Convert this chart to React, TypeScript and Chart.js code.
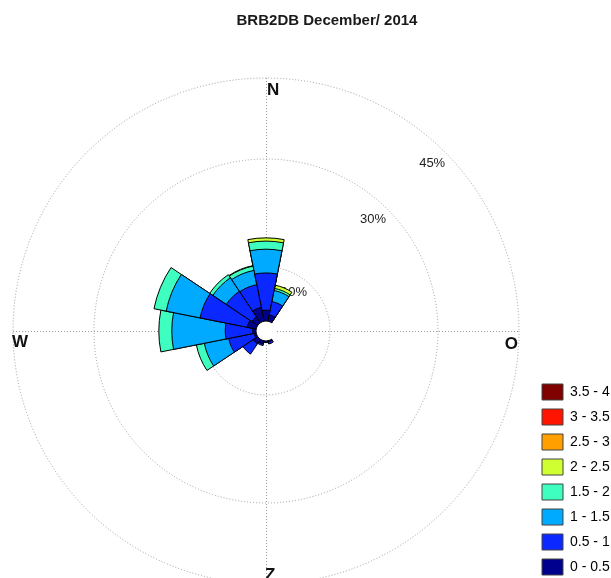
import React, { useEffect, useRef } from 'react';
import { Chart, registerables } from 'chart.js';

Chart.register(...registerables);

const FONT = '"Liberation Sans", Arial, Helvetica, sans-serif';

const chartTitle = 'BRB2DB December/ 2014';

// 16 compass sectors, clockwise from north
const directions = ['N', 'NNE', 'NE', 'ENE', 'E', 'ESE', 'SE', 'SSE', 'S', 'SSW', 'SW', 'WSW', 'W', 'WNW', 'NW', 'NNW'];

// wind-speed classes (m/s) and their colours
const speedClasses = ['0 - 0.5', '0.5 - 1', '1 - 1.5', '1.5 - 2', '2 - 2.5', '2.5 - 3', '3 - 3.5', '3.5 - 4'];
const classColors = ['#00008f', '#0a28ff', '#00aaff', '#3fffc0', '#cfff30', '#ffa000', '#ff1400', '#800000'];

// frequency of occurrence (%) per direction, one array per speed class
const speed0to05 = [2.0, 1.2, 0, 0, 0, 0, 0, 0.2, 0.3, 0.6, 1.0, 0.4, 0.6, 1.7, 1.3, 2.6];
const speed05to1 = [6.9, 2.5, 0, 0, 0, 0, 0, 0.4, 0, 0.3, 2.3, 4.8, 5.1, 8.9, 5.7, 4.3];
const speed1to15 = [4.4, 2.1, 0, 0, 0, 0, 0, 0, 0, 0, 0, 4.6, 9.9, 6.4, 3.0, 2.7];
const speed15to2 = [1.5, 0.4, 0, 0, 0, 0, 0, 0, 0, 0, 0, 1.5, 2.4, 2.3, 0.7, 0.8];
const speed2to25 = [0.6, 0.6, 0, 0, 0, 0, 0, 0, 0, 0, 0, 0, 0, 0, 0, 0.1];
const speed25to3 = [0, 0, 0, 0, 0, 0, 0, 0, 0, 0, 0, 0, 0, 0, 0, 0];
const speed3to35 = [0, 0, 0, 0, 0, 0, 0, 0, 0, 0, 0, 0, 0, 0, 0, 0];
const speed35to4 = [0, 0, 0, 0, 0, 0, 0, 0, 0, 0, 0, 0, 0, 0, 0, 0];

// percentage rings and their labels
const ringValues = [10, 30, 45];
const ringMax = 45;
// small calm circle in the middle, expressed in % of the radial axis
const calmOffset = -1.85;

const compassNorth = 'N';
const compassEast = 'O';
const compassSouth = 'Z';
const compassWest = 'W';

const speedTable = [speed0to05, speed05to1, speed1to15, speed15to2, speed2to25, speed25to3, speed3to35, speed35to4];
const totals = directions.map((_, i) => speedTable.reduce((s, arr) => s + arr[i], 0));
// stacked rose: each class is drawn as the running total from the centre outwards
const cumulative = speedTable.map((_, j) =>
  directions.map((_, i) => speedTable.slice(0, j + 1).reduce((s, arr) => s + arr[i], 0))
);

const roseDecorations = {
  id: 'roseDecorations',
  beforeDatasetsDraw(chart: any) {
    const s = chart.scales.r;
    const ctx = chart.ctx as CanvasRenderingContext2D;
    const cx = s.xCenter;
    const cy = s.yCenter;
    const R = s.drawingArea;
    ctx.save();
    // dotted N-S / W-E axes
    ctx.strokeStyle = '#9a9a9a';
    ctx.lineWidth = 1;
    ctx.setLineDash([1, 2]);
    ctx.beginPath();
    ctx.moveTo(cx + 0.5, cy - R);
    ctx.lineTo(cx + 0.5, cy + R);
    ctx.moveTo(cx - R, cy + 0.5);
    ctx.lineTo(cx + R, cy + 0.5);
    ctx.stroke();
    ctx.setLineDash([]);

    // ring labels along the north-east diagonal
    ctx.font = `13px ${FONT}`;
    ctx.fillStyle = '#222';
    ctx.textAlign = 'right';
    ctx.textBaseline = 'middle';
    const la = (47 * Math.PI) / 180;
    ringValues.forEach((v) => {
      const r = s.getDistanceFromCenterForValue(v) - 8;
      ctx.fillText(`${v}%`, cx + r * Math.sin(la), cy - r * Math.cos(la));
    });

    // compass letters just inside the outer ring
    ctx.font = `bold 17px ${FONT}`;
    ctx.fillStyle = '#111';
    ctx.textBaseline = 'alphabetic';
    ctx.textAlign = 'left';
    ctx.fillText(compassNorth, cx + 1, cy - R + 17);
    ctx.fillText(compassWest, cx - R - 1, cy + 16);
    ctx.fillText(compassSouth, cx - 1, cy + R - 4.5);
    ctx.textAlign = 'right';
    ctx.fillText(compassEast, cx + R - 1, cy + 18);
    ctx.restore();
  },
  afterDatasetsDraw(chart: any) {
    const s = chart.scales.r;
    const ctx = chart.ctx as CanvasRenderingContext2D;
    const cx = s.xCenter;
    const cy = s.yCenter;
    const r0 = s.getDistanceFromCenterForValue(0);
    ctx.save();
    ctx.fillStyle = '#ffffff';
    ctx.beginPath();
    ctx.arc(cx, cy, r0, 0, Math.PI * 2);
    ctx.fill();
    ctx.strokeStyle = '#000';
    ctx.lineWidth = 1;
    const step = (Math.PI * 2) / directions.length;
    const a0 = s.getIndexAngle(0) - Math.PI / 2;
    totals.forEach((t, i) => {
      if (t > 0) {
        ctx.beginPath();
        ctx.arc(cx, cy, r0, a0 + i * step, a0 + (i + 1) * step);
        ctx.stroke();
      }
    });
    ctx.restore();
  },
  afterDraw(chart: any) {
    const ctx = chart.ctx as CanvasRenderingContext2D;
    ctx.save();
    ctx.font = `bold 15px ${FONT}`;
    ctx.fillStyle = '#1a1a1a';
    ctx.textAlign = 'center';
    ctx.textBaseline = 'alphabetic';
    ctx.fillText(chartTitle, 327, 25);
    ctx.restore();
  },
};

export default function App() {
  const canvasRef = useRef<HTMLCanvasElement | null>(null);

  useEffect(() => {
    const canvas = canvasRef.current;
    if (!canvas) return;
    const datasets = speedTable.map((arr, j) => ({
      label: speedClasses[j],
      data: cumulative[j],
      backgroundColor: (c: any) => (arr[c.dataIndex] > 0 ? classColors[j] : 'rgba(0,0,0,0)'),
      borderColor: '#000',
      borderWidth: (c: any) => (arr[c.dataIndex] > 0 ? 1 : 0),
    }));

    const chart = new Chart(canvas, {
      type: 'polarArea',
      data: { labels: directions, datasets },
      options: {
        responsive: false,
        animation: false,
        layout: { padding: { left: 0, top: 78, right: 21, bottom: 16 } },
        scales: {
          r: {
            type: 'radialLinear',
            min: calmOffset,
            max: ringMax,
            bounds: 'data',
            startAngle: -180 / directions.length,
            ticks: { display: false },
            pointLabels: { display: false },
            angleLines: { display: false },
            grid: { display: true, circular: true, color: '#9a9a9a', lineWidth: 1 },
            border: { dash: [1, 2] },
            afterBuildTicks: (scale: any) => {
              scale.ticks = [scale.min, ...ringValues].map((v) => ({ value: v }));
            },
          } as any,
        },
        plugins: {
          title: { display: false },
          tooltip: { enabled: false },
          legend: {
            display: true,
            position: 'right',
            align: 'end',
            maxWidth: 86,
            onClick: () => {},
            labels: {
              boxWidth: 21,
              boxHeight: 16,
              padding: 9,
              color: '#222',
              font: { family: FONT, size: 14 },
              generateLabels: () =>
                speedClasses
                  .map((t, j) => ({
                    text: t,
                    fillStyle: classColors[j],
                    strokeStyle: '#444',
                    lineWidth: 1,
                    hidden: false,
                    datasetIndex: j,
                  }))
                  .reverse(),
            },
          },
        },
      } as any,
      plugins: [roseDecorations],
    });
    return () => chart.destroy();
  }, []);

  return (
    <div
      style={{
        position: 'fixed',
        left: 0,
        top: 0,
        width: 611,
        height: 578,
        overflow: 'hidden',
        background: '#fff',
      }}
    >
      <canvas ref={canvasRef} width={640} height={600} style={{ display: 'block', width: 640, height: 600 }} />
    </div>
  );
}
